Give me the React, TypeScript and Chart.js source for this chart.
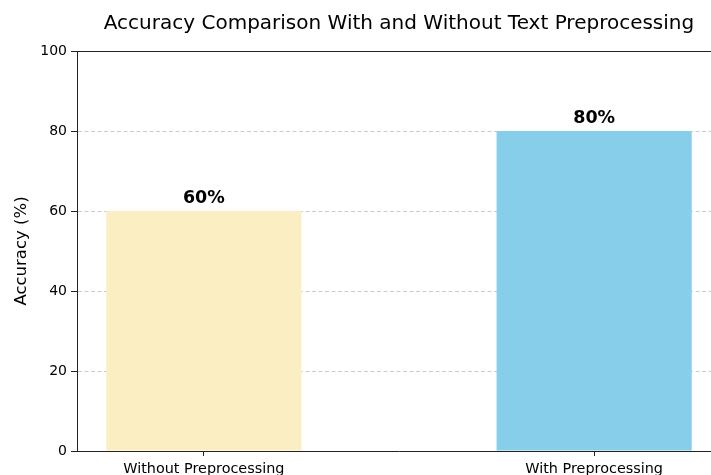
import React, { useEffect, useRef } from "react";
import { Chart, registerables } from "chart.js";
Chart.register(...registerables);

const titleText = "Accuracy Comparison With and Without Text Preprocessing";
const yAxisTitle = "Accuracy (%)";
const categories = ["Without Preprocessing", "With Preprocessing"];
const accuracy = [60, 80];
const valueLabels = ["60%", "80%"];
const yTicks = [0, 20, 40, 60, 80, 100];
const barColors = ["#FBEEC3", "#87CEEB"];

const FONT = "'DejaVu Sans', sans-serif";

export default function App() {
  const ref = useRef<HTMLCanvasElement>(null);
  useEffect(() => {
    document.body.style.margin = "0";
    document.body.style.overflow = "hidden";
    const framePlugin = {
      id: "frame",
      afterDraw(chart: any) {
        const { ctx, chartArea } = chart;
        ctx.save();
        ctx.strokeStyle = "#222";
        ctx.lineWidth = 1;
        ctx.beginPath();
        ctx.moveTo(chartArea.left, Math.round(chartArea.top) + 0.5);
        ctx.lineTo(chartArea.right, Math.round(chartArea.top) + 0.5);
        ctx.moveTo(Math.round(chartArea.right) + 0.5, chartArea.top);
        ctx.lineTo(Math.round(chartArea.right) + 0.5, chartArea.bottom);
        ctx.stroke();
        ctx.restore();
      },
    };
    const labelPlugin = {
      id: "valueLabels",
      afterDatasetsDraw(chart: any) {
        const { ctx } = chart;
        const meta = chart.getDatasetMeta(0);
        ctx.save();
        ctx.font = `bold 17.5px ${FONT}`;
        ctx.fillStyle = "#000";
        ctx.textAlign = "center";
        ctx.textBaseline = "alphabetic";
        meta.data.forEach((bar: any, i: number) => {
          ctx.fillText(valueLabels[i], bar.x, bar.y - 8);
        });
        ctx.restore();
      },
    };
    const chart = new Chart(ref.current!, {
      type: "bar",
      data: {
        datasets: [
          {
            data: categories.map((_, i) => ({ x: i, y: accuracy[i] })),
            backgroundColor: barColors,
            categoryPercentage: 1,
            barPercentage: 0.5,
          } as any,
        ],
      },
      options: {
        animation: false,
        responsive: false,
        layout: { padding: { left: 0, right: 39, top: 0, bottom: 0 } },
        plugins: {
          legend: { display: false },
          tooltip: { enabled: false },
          title: {
            display: true,
            text: titleText,
            fullSize: false,
            color: "#000",
            font: { family: FONT, size: 20, weight: "normal" },
            padding: { top: 12, bottom: 15 },
          },
        },
        scales: {
          x: {
            type: "linear",
            min: -0.325,
            max: 1.325,
            offset: false,
            afterBuildTicks: (s: any) => {
              s.ticks = categories.map((_, i) => ({ value: i }));
            },
            afterFit: (s: any) => {
              s.height = 24;
            },
            ticks: {
              callback: (v: any) => categories[v] ?? "",
              autoSkip: false,
              maxRotation: 0,
              color: "#000",
              font: { family: FONT, size: 14.4 },
              padding: 5,
            },
            grid: {
              offset: false,
              drawOnChartArea: false,
              tickLength: 5,
              tickColor: "#222",
            },
            border: { color: "#222", width: 1 },
          },
          y: {
            min: 0,
            max: 100,
            afterBuildTicks: (s: any) => {
              s.ticks = yTicks.map((v) => ({ value: v }));
            },
            afterFit: (s: any) => {
              s.width = 77;
            },
            ticks: {
              color: "#000",
              font: { family: FONT, size: 14 },
              padding: 4,
            },
            grid: {
              color: "#cccccc",
              lineWidth: 1,
              tickLength: 6,
              tickColor: "#222",
            },
            border: { color: "#222", width: 1, dash: [4, 2.5] },
            title: {
              display: true,
              text: yAxisTitle,
              color: "#000",
              font: { family: FONT, size: 16.5 },
              padding: { top: 12, bottom: 0 },
            },
          },
        },
      } as any,
      plugins: [framePlugin, labelPlugin],
    });
    return () => chart.destroy();
  }, []);
  return (
    <div style={{ position: "fixed", left: 0, top: 0, width: 711, height: 475, overflow: "hidden", background: "#fff" }}>
      <canvas ref={ref} width={760} height={475} style={{ display: "block", width: 760, height: 475 }} />
    </div>
  );
}
